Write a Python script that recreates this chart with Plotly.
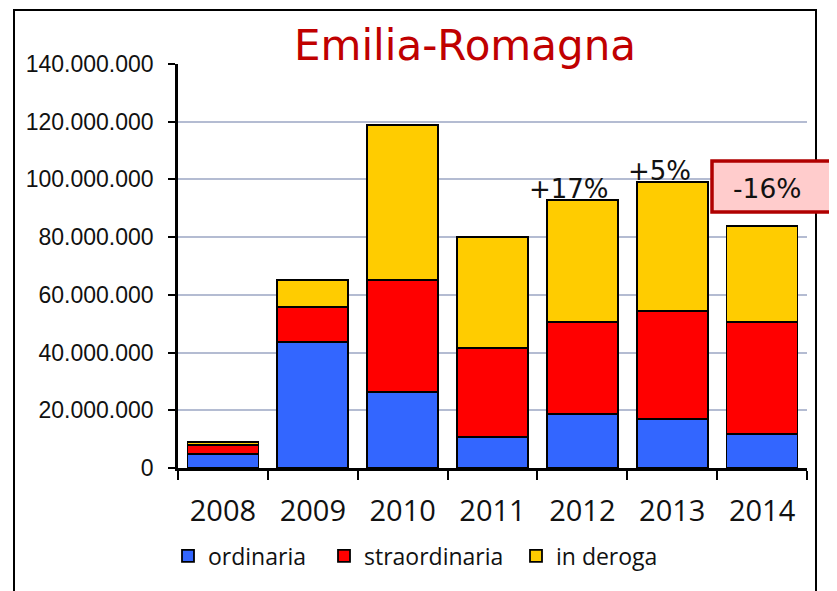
import plotly.graph_objects as go

years = ["2008", "2009", "2010", "2011", "2012", "2013", "2014"]
ordinaria = [4.9e6, 43.7e6, 26.3e6, 10.7e6, 18.7e6, 17.0e6, 11.8e6]
straordinaria = [3.1e6, 12.1e6, 38.8e6, 30.9e6, 31.9e6, 37.4e6, 38.8e6]
in_deroga = [1.0e6, 9.4e6, 53.8e6, 38.4e6, 42.3e6, 44.7e6, 33.3e6]
series_names = ["ordinaria", "straordinaria", "in deroga"]
colors = ["#3366FF", "#FF0000", "#FFCC00"]
change_years = ["2012", "2013", "2014"]
change_labels = ["+17%", "+5%", "-16%"]
y_ticks = [0, 20e6, 40e6, 60e6, 80e6, 100e6, 120e6, 140e6]
title_text = "Emilia-Romagna"

AXFONT = "Liberation Sans"
TXFONT = "Open Sans"
VFONT = "DejaVu Sans"

# page body has an 8px margin: work in screen pixels and convert
OFF = 8
W, H = 837, 591
L, R, T, B = 178 - OFF, W - (807 - OFF), 64 - OFF, H - (468 - OFF)
pw, ph = W - L - R, H - T - B

def px(sx):
    return (sx - OFF - L) / pw

def py(sy):
    return (H - B - (sy - OFF)) / ph

legend_widths = [111, 147, 120]

fig = go.Figure()
for name, vals, col, lw in zip(series_names, [ordinaria, straordinaria, in_deroga], colors, legend_widths):
    fig.add_trace(go.Bar(
        x=years, y=vals, name=name, legendwidth=lw,
        marker=dict(color=col, line=dict(color="black", width=1.8)),
    ))

totals = [a + b + c for a, b, c in zip(ordinaria, straordinaria, in_deroga)]

fig.update_layout(
    width=W, height=H,
    margin=dict(l=L, r=R, t=T, b=B, pad=0),
    barmode="stack",
    bargap=0.21,
    plot_bgcolor="white",
    paper_bgcolor="white",
    separators=",.",
    showlegend=True,
    legend=dict(
        orientation="h", traceorder="normal",
        x=px(168), y=py(556), xanchor="left", yanchor="middle",
        font=dict(family=TXFONT, size=23, color="#111111"),
        tracegroupgap=0,
    ),
    font=dict(family=AXFONT, color="#111111"),
    xaxis=dict(
        type="category", range=[-0.5, 6.5],
        showline=True, linecolor="black", linewidth=2.5,
        ticks="outside", tickson="boundaries", ticklen=9, tickwidth=2, tickcolor="black",
        tickfont=dict(family=TXFONT, size=29, color="#111111"),
        tickangle=0, ticklabelstandoff=15,
        showgrid=False,
    ),
    yaxis=dict(
        range=[0, 140e6], tickvals=y_ticks, tickformat=",d",
        showline=True, linecolor="black", linewidth=2.5,
        ticks="outside", ticklen=7, tickwidth=2, tickcolor="black",
        tickfont=dict(family=AXFONT, size=23, color="#111111"),
        ticklabelstandoff=10,
        showgrid=True, gridcolor="#B4BCD2", gridwidth=2,
        zeroline=False,
    ),
)

# outer frame
fig.add_shape(type="rect", xref="paper", yref="paper",
              x0=px(14), x1=px(816), y0=py(660), y1=py(10),
              line=dict(color="black", width=2), fillcolor="rgba(0,0,0,0)", layer="below")

# title
fig.add_annotation(text=title_text, xref="paper", yref="paper",
                   x=px(465), y=py(46), xanchor="center", yanchor="middle",
                   showarrow=False, font=dict(family=VFONT, size=42, color="#C00000"))

# change annotations
for yr, lab in zip(change_years[:2], change_labels[:2]):
    i = years.index(yr)
    fig.add_annotation(text=lab, x=i, y=totals[i], xref="x", yref="y",
                       yanchor="bottom", yshift=-6, xshift=-13, showarrow=False,
                       font=dict(family=VFONT, size=26, color="#111111"))

# -16% box
fig.add_shape(type="rect", xref="paper", yref="paper",
              x0=px(712), x1=px(880), y0=py(212), y1=py(161),
              line=dict(color="#B00000", width=3.5), fillcolor="#FFCCCC")
fig.add_annotation(text=change_labels[2], xref="paper", yref="paper",
                   x=px(767), y=py(188), xanchor="center", yanchor="middle",
                   showarrow=False, font=dict(family=VFONT, size=26.5, color="#111111"))

fig.write_html("out.html")
